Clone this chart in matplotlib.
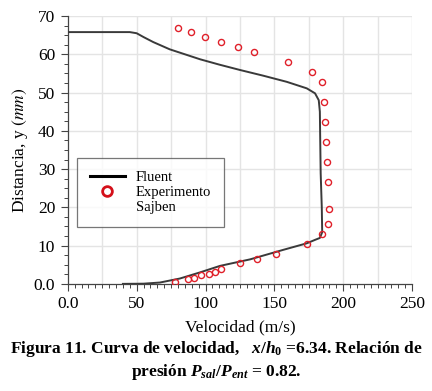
import numpy as np
import matplotlib
matplotlib.use("Agg")
import matplotlib.pyplot as plt
from matplotlib.lines import Line2D
from matplotlib.ticker import MultipleLocator

# Fluent simulation profile (velocity m/s, distance mm)
fluent_v = [0, 45, 50, 55, 62, 74, 85, 96, 110, 125, 142, 159, 173.5, 179.5,
            182.2, 183.0, 183.2, 183.6, 184.4, 184.7, 183.0, 179.5, 173.5,
            156.5, 132.3, 110.5, 96, 81.4, 66.9, 55, 40]
fluent_y = [65.8, 65.8, 65.5, 64.5, 63.2, 61.3, 60.0, 58.7, 57.3, 55.9, 54.4,
            52.8, 51.1, 49.8, 48.0, 45.0, 39.4, 28.9, 20.0, 13.5, 12.0, 11.5,
            10.6, 8.9, 6.4, 4.7, 3.0, 1.4, 0.35, 0.05, 0.0]

# Sajben experiment
exp_v = [77.8, 87.4, 91.8, 96.6, 102.8, 107.0, 111.4, 125.0, 137.6, 150.9,
         173.7, 184.8, 189.2, 189.9, 188.7, 188.5, 187.7, 186.5, 186.0, 184.6,
         177.3, 159.9, 135.4, 123.3, 111.4, 99.8, 89.6, 80.2]
exp_y = [0.6, 1.2, 1.6, 2.3, 2.7, 3.2, 4.0, 5.4, 6.6, 7.8, 10.5, 13.0, 15.7,
         19.6, 26.7, 31.9, 37.2, 42.4, 47.5, 52.7, 55.4, 58.0, 60.6, 61.9,
         63.3, 64.6, 65.7, 66.9]

xticks = [0, 50, 100, 150, 200, 250]
xticklabels = ["0.0", "50", "100", "150", "200", "250"]
yticks = [0, 10, 20, 30, 40, 50, 60, 70]
yticklabels = ["0.0", "10", "20", "30", "40", "50", "60", "70"]
xgrid = [25, 50, 75, 100, 125, 150, 175, 200, 225, 250]

plt.rcParams["font.family"] = ["Liberation Serif", "DejaVu Serif"]
plt.rcParams["mathtext.fontset"] = "custom"
plt.rcParams["mathtext.rm"] = "Liberation Serif:bold"
plt.rcParams["mathtext.it"] = "Liberation Serif:italic:bold"
plt.rcParams["mathtext.bf"] = "Liberation Serif:bold"

fig = plt.figure(figsize=(4.32, 3.91), dpi=100)
ax = fig.add_axes([0.157, 0.274, 0.797, 0.685])

ax.plot(fluent_v, fluent_y, color="#3a3a3a", lw=1.4, zorder=3)
ax.plot(exp_v, exp_y, ls="none", marker="o", ms=4.4, mfc="none", mec="#e0202a",
        mew=1.0, zorder=4)

ax.set_xlim(0, 250)
ax.set_ylim(0, 70)
ax.set_xticks(xticks)
ax.set_xticklabels(xticklabels)
ax.set_yticks(yticks)
ax.set_yticklabels(yticklabels)
ax.xaxis.set_minor_locator(MultipleLocator(5))
ax.yaxis.set_minor_locator(MultipleLocator(2.5))
for gx in xgrid:
    ax.axvline(gx, color="#e4e4e4", lw=1.0, zorder=0)
for gy in yticks[1:]:
    ax.axhline(gy, color="#e4e4e4", lw=1.0, zorder=0)

ax.tick_params(axis="both", which="major", direction="out", length=5,
               width=0.8, color="#444444", labelsize=12.5, pad=4)
ax.tick_params(axis="both", which="minor", direction="out", length=3,
               width=0.7, color="#444444")
ax.tick_params(top=False, right=False, which="both")
for side in ["top", "right"]:
    ax.spines[side].set_visible(False)
for side in ["left", "bottom"]:
    ax.spines[side].set_color("#444444")
    ax.spines[side].set_linewidth(0.9)

ax.set_xlabel("Velocidad (m/s)", fontsize=12.5, labelpad=5)
ax.set_ylabel(r"Distancia, y $(\mathit{mm})$", fontsize=12.5, labelpad=3,
              math_fontfamily="stix")

handles = [
    Line2D([], [], color="black", lw=2.2),
    Line2D([], [], ls="none", marker="o", ms=7, mfc="none", mec="#d4101a", mew=2),
    Line2D([], [], ls="none"),
]
leg = ax.legend(handles, ["Fluent", "Experimento", "Sajben"],
                loc="upper left", bbox_to_anchor=(0.026, 0.47), fontsize=10.5,
                frameon=True, fancybox=False, edgecolor="#555555",
                borderpad=0.9, handlelength=2.4, labelspacing=0.12,
                handletextpad=0.75, borderaxespad=0)
leg.get_frame().set_linewidth(0.9)

fig.text(0.5, 0.107, r"Figura 11. Curva de velocidad,   $x/h_0$ =6.34. Relación de",
         ha="center", va="center", fontsize=12.5, fontweight="bold")
fig.text(0.5, 0.048, r"presión $P_{sal}/P_{ent}$ = 0.82.",
         ha="center", va="center", fontsize=12.5, fontweight="bold")

fig.savefig("out.png", dpi=100)
